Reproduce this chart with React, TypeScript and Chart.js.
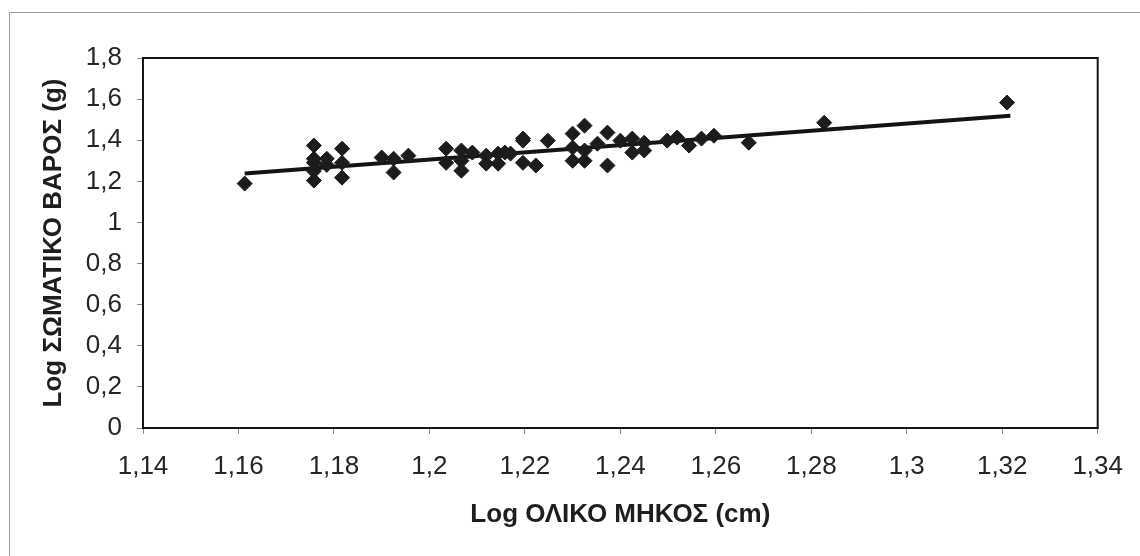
import React, { useEffect, useRef } from "react";
import { Chart, registerables } from "chart.js";

Chart.register(...registerables);

// Observed points: Log total length (cm) vs Log body weight (g)
const logLength: number[] = [
  1.1613, 1.1758, 1.1758, 1.1758, 1.1758, 1.1758, 1.1785, 1.1785, 1.1817, 1.1817,
  1.1817, 1.19, 1.1925, 1.1925, 1.1956, 1.2035, 1.2035, 1.2067, 1.2067, 1.2067,
  1.209, 1.2119, 1.2119, 1.2144, 1.2144, 1.2158, 1.217, 1.2196, 1.2196, 1.2196,
  1.2223, 1.2248, 1.23, 1.23, 1.23, 1.2325, 1.2325, 1.2325, 1.2352, 1.2373,
  1.2373, 1.24, 1.2425, 1.2425, 1.245, 1.245, 1.2498, 1.2519, 1.2544, 1.257,
  1.2596, 1.2669, 1.2827, 1.321,
];
const logWeight: number[] = [
  1.189, 1.374, 1.31, 1.291, 1.25, 1.204, 1.31, 1.28, 1.359, 1.29,
  1.218, 1.316, 1.31, 1.243, 1.325, 1.359, 1.29, 1.35, 1.3, 1.252,
  1.34, 1.325, 1.286, 1.335, 1.286, 1.34, 1.335, 1.408, 1.398, 1.29,
  1.277, 1.398, 1.432, 1.364, 1.3, 1.471, 1.35, 1.3, 1.383, 1.437,
  1.277, 1.398, 1.408, 1.34, 1.388, 1.35, 1.398, 1.413, 1.374, 1.408,
  1.422, 1.388, 1.485, 1.583,
];

// Fitted trend line end points
const trendX: number[] = [1.1613, 1.3217];
const trendY: number[] = [1.238, 1.519];

const xTickLabels: string[] = ["1,14", "1,16", "1,18", "1,2", "1,22", "1,24", "1,26", "1,28", "1,3", "1,32", "1,34"];
const yTickLabels: string[] = ["0", "0,2", "0,4", "0,6", "0,8", "1", "1,2", "1,4", "1,6", "1,8"];

const xTitle = "Log ΟΛΙΚΟ ΜΗΚΟΣ (cm)";
const yTitle = "Log ΣΩΜΑΤΙΚΟ ΒΑΡΟΣ (g)";

const FONT = "'Liberation Sans', Arial, sans-serif";

const framePlugin = {
  id: "framePlugin",
  beforeDraw(chart: any) {
    const ctx = chart.ctx;
    ctx.save();
    ctx.fillStyle = "#ffffff";
    ctx.fillRect(0, 0, chart.width, chart.height);
    ctx.strokeStyle = "#9a9a9a";
    ctx.lineWidth = 1;
    ctx.beginPath();
    ctx.moveTo(9.5, chart.height);
    ctx.lineTo(9.5, 12.5);
    ctx.lineTo(chart.width, 12.5);
    ctx.stroke();
    ctx.restore();
  },
  beforeDatasetsDraw(chart: any) {
    const { ctx, chartArea } = chart;
    ctx.save();
    ctx.strokeStyle = "#151515";
    ctx.lineWidth = 2;
    ctx.strokeRect(chartArea.left, chartArea.top, chartArea.right - chartArea.left, chartArea.bottom - chartArea.top);
    ctx.restore();
  },
};

export default function App() {
  const ref = useRef<HTMLCanvasElement | null>(null);

  useEffect(() => {
    document.body.style.margin = "0";
    if (!ref.current) return;
    const points = logLength.map((x, i) => ({ x, y: logWeight[i] }));
    const trend = trendX.map((x, i) => ({ x, y: trendY[i] }));
    const chart = new Chart(ref.current, {
      type: "scatter",
      data: {
        datasets: [
          {
            type: "line",
            data: trend,
            borderColor: "#141414",
            borderWidth: 4,
            pointRadius: 0,
            fill: false,
            order: 2,
          } as any,
          {
            data: points,
            pointStyle: "rectRot",
            pointRadius: 7.5,
            pointBorderWidth: 1,
            backgroundColor: "#1c1c1c",
            borderColor: "#1c1c1c",
            order: 1,
          },
        ],
      },
      options: {
        responsive: false,
        animation: false,
        layout: { padding: { left: 0, right: 40, top: 58, bottom: 0 } },
        plugins: { legend: { display: false }, tooltip: { enabled: false } },
        scales: {
          x: {
            type: "linear",
            min: 1.14,
            max: 1.34,
            afterFit: (s: any) => { s.height = 128; },
            ticks: {
              stepSize: 0.02,
              callback: (_v: any, i: number) => xTickLabels[i],
              font: { family: FONT, size: 26 },
              color: "#252525",
              padding: 17,
              maxRotation: 0,
              autoSkip: false,
            },
            grid: { drawOnChartArea: false, drawTicks: true, tickLength: 6, color: "#888", lineWidth: 1 },
            border: { display: true, color: "#151515", width: 2 },
            title: {
              display: true,
              text: xTitle,
              font: { family: FONT, size: 26, weight: "bold" },
              color: "#1e1e1e",
              padding: { top: 0, bottom: 26 },
            },
          },
          y: {
            type: "linear",
            min: 0,
            max: 1.8,
            afterFit: (s: any) => { s.width = 143; },
            ticks: {
              stepSize: 0.2,
              callback: (_v: any, i: number) => yTickLabels[i],
              font: { family: FONT, size: 26 },
              color: "#252525",
              padding: 15,
              autoSkip: false,
            },
            grid: { drawOnChartArea: false, drawTicks: true, tickLength: 6, color: "#888", lineWidth: 1 },
            border: { display: true, color: "#151515", width: 2 },
            title: {
              display: true,
              text: yTitle,
              font: { family: FONT, size: 26, weight: "bold" },
              color: "#1e1e1e",
              padding: { top: 38, bottom: 0 },
            },
          },
        },
      },
      plugins: [framePlugin],
    });
    return () => chart.destroy();
  }, []);

  return (
    <div style={{ width: 1140, height: 556 }}>
      <canvas ref={ref} width={1140} height={556} style={{ display: "block" }} />
    </div>
  );
}
